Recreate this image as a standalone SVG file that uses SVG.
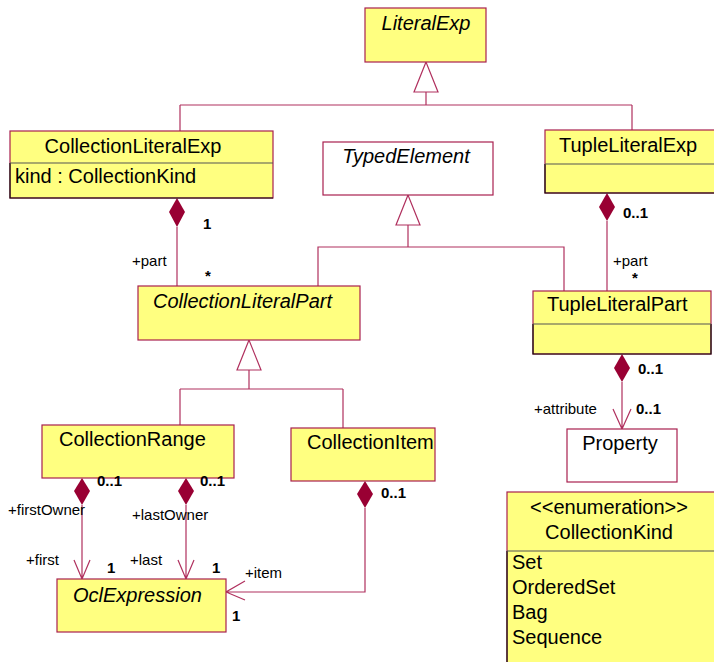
<svg xmlns="http://www.w3.org/2000/svg" width="714" height="662" viewBox="0 0 714 662">
<defs>
<style>
.box{fill:#ffff80;stroke:#a8204f;stroke-width:1.2}
.wbox{fill:#ffffff;stroke:#a8204f;stroke-width:1.2}
.dark{fill:none;stroke:#111;stroke-width:1.2}
.div{stroke:#555;stroke-width:1.2}
.t{font-family:"Liberation Sans",Arial,sans-serif;font-size:20px;fill:#000}
.i{font-style:italic}
.s{font-family:"Liberation Sans",Arial,sans-serif;font-size:15px;fill:#000}
.m{font-family:"Liberation Sans",Arial,sans-serif;font-size:15px;font-weight:bold;fill:#000}
.ln{fill:none;stroke:#b0305e;stroke-width:1.2}
.tri{fill:#fff;stroke:#b0305e;stroke-width:1.2}
.dia{fill:#990033;stroke:none}
</style>
</defs>
<g id="connectors">
<path class="ln" d="M426,92 V105 M180,105 H632 M180,105 V131 M632,105 V130"/>
<polygon class="tri" points="426,62 414,92 438,92"/>
<path class="ln" d="M408,225 V247 M318,286 V247 H564 V291"/>
<polygon class="tri" points="408,195 396,225 420,225"/>
<path class="ln" d="M249,370 V389 M180,389 H343 M180,389 V425 M343,389 V428"/>
<polygon class="tri" points="249,340 237,370 261,370"/>
<polygon class="dia" points="177,198 169,212 177,227 185,212"/>
<path class="ln" d="M177,227 V286"/>
<polygon class="dia" points="607,193 599,207 607,221 615,207"/>
<path class="ln" d="M607,221 V291"/>
<polygon class="dia" points="622,354 614,368 622,382 630,368"/>
<path class="ln" d="M622,382 V429 M613,409 L622,429 L631,409"/>
<polygon class="dia" points="82,478 74,491 82,505 90,491"/>
<path class="ln" d="M82,505 V579 M74,560 L82,579 L90,560"/>
<polygon class="dia" points="186,478 178,491 186,505 194,491"/>
<path class="ln" d="M186,505 V579 M178,560 L186,579 L194,560"/>
<polygon class="dia" points="365,481 357,494 365,508 373,494"/>
<path class="ln" d="M365,508 V592 H226 M245,581 L226,592 L245,600"/>
</g>
<g id="LiteralExp">
<rect class="box" x="365" y="8" width="121" height="54"/>
<text class="t i" x="426" y="30" text-anchor="middle">LiteralExp</text>
</g>
<g id="CollectionLiteralExp">
<rect class="box" x="10" y="131" width="263" height="67"/>
<path class="dark" d="M10,163 V198 H273"/>
<line class="div" x1="10" y1="163" x2="273" y2="163"/>
<text class="t" x="133" y="153" text-anchor="middle">CollectionLiteralExp</text>
<text class="t" x="15" y="183">kind : CollectionKind</text>
</g>
<g id="TypedElement">
<rect class="wbox" x="323" y="142" width="170" height="53"/>
<text class="t i" x="406" y="163" text-anchor="middle">TypedElement</text>
</g>
<g id="TupleLiteralExp">
<rect class="box" x="545" y="130" width="175" height="63"/>
<path class="dark" d="M545,164 V193 H720"/>
<line class="div" x1="545" y1="164" x2="720" y2="164"/>
<text class="t" x="559" y="152">TupleLiteralExp</text>
</g>
<g id="CollectionLiteralPart">
<rect class="box" x="138" y="286" width="222" height="54"/>
<text class="t i" x="153" y="308">CollectionLiteralPart</text>
</g>
<g id="TupleLiteralPart">
<rect class="box" x="533" y="291" width="178" height="63"/>
<path class="dark" d="M533,324 V354 H711 V324"/>
<line class="div" x1="533" y1="324" x2="711" y2="324"/>
<text class="t" x="547" y="311">TupleLiteralPart</text>
</g>
<g id="Property">
<rect class="wbox" x="567" y="429" width="110" height="53"/>
<text class="t" x="620" y="450" text-anchor="middle">Property</text>
</g>
<g id="CollectionRange">
<rect class="box" x="42" y="425" width="192" height="53"/>
<text class="t" x="59" y="446">CollectionRange</text>
</g>
<g id="CollectionItem">
<rect class="box" x="291" y="428" width="144" height="53"/>
<text class="t" x="307" y="449">CollectionItem</text>
</g>
<g id="OclExpression">
<rect class="box" x="57" y="579" width="169" height="53"/>
<text class="t i" x="73" y="602">OclExpression</text>
</g>
<g id="CollectionKind">
<rect class="box" x="507" y="492" width="215" height="175"/>
<path class="dark" d="M507,551 V667"/>
<line class="div" x1="507" y1="551" x2="722" y2="551"/>
<text class="t" x="609" y="514" text-anchor="middle">&lt;&lt;enumeration&gt;&gt;</text>
<text class="t" x="609" y="539" text-anchor="middle">CollectionKind</text>
<text class="t" x="512" y="569">Set</text>
<text class="t" x="512" y="594">OrderedSet</text>
<text class="t" x="512" y="619">Bag</text>
<text class="t" x="512" y="644">Sequence</text>
</g>
<g id="labels">
<text class="m" x="203" y="229">1</text>
<text class="s" x="132" y="266">+part</text>
<text class="m" x="205" y="281">*</text>
<text class="m" x="623" y="218">0..1</text>
<text class="s" x="613" y="266">+part</text>
<text class="m" x="632" y="283">*</text>
<text class="m" x="638" y="374">0..1</text>
<text class="s" x="534" y="414">+attribute</text>
<text class="m" x="636" y="414">0..1</text>
<text class="m" x="97" y="486">0..1</text>
<text class="m" x="200" y="486">0..1</text>
<text class="s" x="8" y="515">+firstOwner</text>
<text class="s" x="132" y="520">+lastOwner</text>
<text class="s" x="26" y="565">+first</text>
<text class="m" x="107" y="573">1</text>
<text class="s" x="130" y="565">+last</text>
<text class="m" x="212" y="573">1</text>
<text class="m" x="381" y="498">0..1</text>
<text class="s" x="245" y="578">+item</text>
<text class="m" x="232" y="621">1</text>
</g>
</svg>
